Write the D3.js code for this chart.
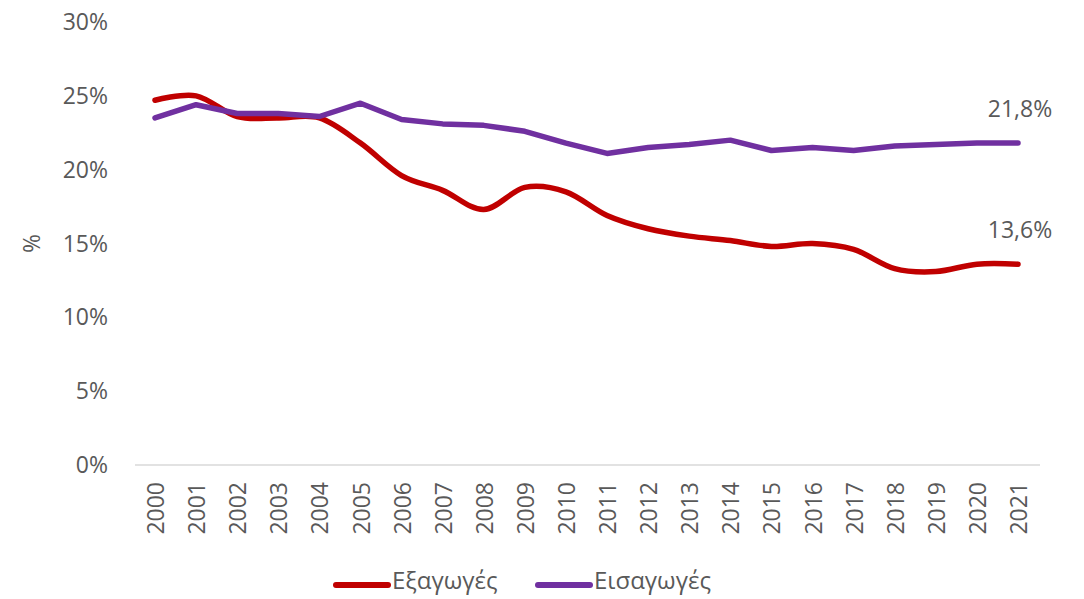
<!DOCTYPE html>
<html><head><meta charset="utf-8">
<script src="https://cdn.jsdelivr.net/npm/d3@7"></script>
<style>body{margin:0;background:#fff;} text{font-family:"Open Sans","Noto Sans",sans-serif;fill:#595959;}</style>
</head><body>
<svg id="c" width="1084" height="599"></svg>
<script>
const years = ["2000","2001","2002","2003","2004","2005","2006","2007","2008","2009","2010","2011","2012","2013","2014","2015","2016","2017","2018","2019","2020","2021"];
const exportsShare = [24.7,25.0,23.6,23.5,23.5,21.8,19.6,18.6,17.3,18.8,18.5,16.9,16.0,15.5,15.2,14.8,15.0,14.6,13.3,13.1,13.6,13.6];
const importsShare = [23.5,24.4,23.8,23.8,23.6,24.5,23.4,23.1,23.0,22.6,21.8,21.1,21.5,21.7,22.0,21.3,21.5,21.3,21.6,21.7,21.8,21.8];
const yTicks = [0,5,10,15,20,25,30];
const seriesNames = ["Εξαγωγές","Εισαγωγές"];
const colors = ["#C00000","#7030A0"];

const svg = d3.select("#c");
const x = d3.scalePoint().domain(years).range([155,1018]);
const y = d3.scaleLinear().domain([0,30]).range([465,22]);
const fs = 23;

svg.append("g").selectAll("text").data(yTicks).join("text")
  .attr("x",108).attr("y",d=>y(d)).attr("dy","0.35em")
  .attr("text-anchor","end").attr("font-size",fs).text(d=>d+"%");

svg.append("text").attr("transform","translate(40,"+y(15)+") rotate(-90)")
  .attr("text-anchor","middle").attr("font-size",fs).text("%");

svg.append("line").attr("x1",135).attr("x2",1040).attr("y1",y(0)).attr("y2",y(0))
  .attr("stroke","#D9D9D9").attr("stroke-width",1.5);

svg.append("g").selectAll("text").data(years).join("text")
  .attr("transform",d=>"translate("+(x(d)+1)+",482) rotate(-90)")
  .attr("text-anchor","end").attr("dy","0.35em").attr("font-size",fs).text(d=>d);

const lineSmooth = d3.line().x((d,i)=>x(years[i])).y(d=>y(d)).curve(d3.curveCatmullRom.alpha(0));
const lineStraight = d3.line().x((d,i)=>x(years[i])).y(d=>y(d));

svg.append("path").attr("d",lineSmooth(exportsShare)).attr("fill","none")
  .attr("stroke",colors[0]).attr("stroke-width",5.5).attr("stroke-linecap","round").attr("stroke-linejoin","round");
svg.append("path").attr("d",lineStraight(importsShare)).attr("fill","none")
  .attr("stroke",colors[1]).attr("stroke-width",5.5).attr("stroke-linecap","round").attr("stroke-linejoin","round");

const last = years.length-1;
svg.append("text").attr("x",x(years[last])+2).attr("y",y(importsShare[last])-34).attr("dy","0.35em")
  .attr("text-anchor","middle").attr("font-size",fs).text(importsShare[last].toFixed(1).replace(".",",")+"%");
svg.append("text").attr("x",x(years[last])+2).attr("y",y(exportsShare[last])-34).attr("dy","0.35em")
  .attr("text-anchor","middle").attr("font-size",fs).text(exportsShare[last].toFixed(1).replace(".",",")+"%");

const legX = [336,538];
seriesNames.forEach((n,i)=>{
  svg.append("line").attr("x1",legX[i]).attr("x2",legX[i]+52).attr("y1",585).attr("y2",585)
    .attr("stroke",colors[i]).attr("stroke-width",6).attr("stroke-linecap","round");
  svg.append("text").attr("x",legX[i]+56).attr("y",581).attr("dy","0.35em").attr("font-size",24).text(n);
});
</script>
</body></html>
